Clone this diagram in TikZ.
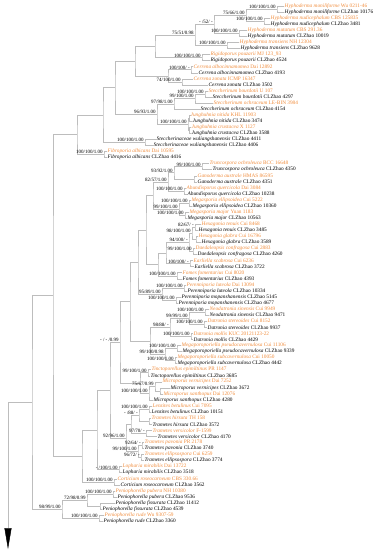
\documentclass[tikz,border=0pt]{standalone}
\usepackage{fontspec}
\setmainfont{Liberation Serif}
\usepackage{tikz}
\usetikzlibrary{arrows.meta}
\definecolor{colorRef}{HTML}{F08C3C}
\definecolor{colorRama}{HTML}{BDBDBD}
\newcommand{\taxon}[2]{\textit{#1} #2}

\begin{document}
\begin{tikzpicture}[
        x=1pt, y=-6.06pt,
        tip/.style={anchor=west, inner sep=0.5pt, font=\fontsize{5.3}{6}\selectfont},
        ref/.style={tip, text=colorRef},
        own/.style={tip},
        bs/.style={anchor=south east, inner sep=0.3pt, xshift=-0.8pt, font=\fontsize{5}{5}\selectfont},
        br/.style={draw=colorRama, line width=0.45pt}
    ]
    \useasboundingbox (0pt,0pt) rectangle (378pt,-550pt);
    % tips
    \node[ref] (t1) at (284,1) {\taxon{Hyphoderma moniliforme}{Wu 0211-46}};
    \node[own] (t2) at (284,2) {\taxon{Hyphoderma moniliforme}{CLZhao 10176}};
    \node[ref] (t3) at (270,3) {\taxon{Hyphoderma nudicephalum}{CBS 125835}};
    \node[own] (t4) at (270,4) {\taxon{Hyphoderma nudicephalum}{CLZhao 3481}};
    \node[ref] (t5) at (247,5) {\taxon{Hyphoderma mutatum}{CBS 291.36}};
    \node[own] (t6) at (247,6) {\taxon{Hyphoderma mutatum}{CLZhao 10019}};
    \node[ref] (t7) at (239,7) {\taxon{Hyphoderma transiens}{NH 12304}};
    \node[own] (t8) at (240,8) {\taxon{Hyphoderma transiens}{CLZhao 9628}};
    \node[ref] (t9) at (210,9) {\taxon{Rigidoporus pouzarii}{MJ 123\_93}};
    \node[own] (t10) at (210,10) {\taxon{Rigidoporus pouzarii}{CLZhao 4524}};
    \node[ref] (t11) at (193,11) {\taxon{Cerrena albocinnamomea}{Dai 12892}};
    \node[own] (t12) at (198,12) {\taxon{Cerrena albocinnamomea}{CLZhao 4193}};
    \node[ref] (t13) at (193,13) {\taxon{Cerrena zonata}{ICMP 16347}};
    \node[own] (t14) at (208,14) {\taxon{Cerrena zonata}{CLZhao 3502}};
    \node[ref] (t15) at (208,15) {\taxon{Steccherinum bourdotii}{U 107}};
    \node[own] (t16) at (212,16) {\taxon{Steccherinum bourdotii}{CLZhao 4297}};
    \node[ref] (t17) at (213,17) {\taxon{Steccherinum ochraceum}{LE-BIN 3984}};
    \node[own] (t18) at (200,18) {\taxon{Steccherinum ochraceum}{CLZhao 4154}};
    \node[ref] (t19) at (190,19) {\taxon{Junghuhnia nitida}{KHL 11903}};
    \node[own] (t20) at (192,20) {\taxon{Junghuhnia nitida}{CLZhao 3474}};
    \node[ref] (t21) at (191,21) {\taxon{Junghuhnia crustacea}{X 1127}};
    \node[own] (t22) at (191,22) {\taxon{Junghuhnia crustacea}{CLZhao 3588}};
    \node[own] (t23) at (156,23) {\taxon{Steccherinaceae wuliangshanensis}{CLZhao 4411}};
    \node[own] (t24) at (153,24) {\taxon{Steccherinaceae wuliangshanensis}{CLZhao 4406}};
    \node[ref] (t25) at (107,25) {\taxon{Fibroporia albicans}{Dai 10595}};
    \node[own] (t26) at (107,26) {\taxon{Fibroporia albicans}{CLZhao 4416}};
    \node[ref] (t27) at (209,27) {\taxon{Truncospora ochroleuca}{BCC 16648}};
    \node[own] (t28) at (212,28) {\taxon{Truncospora ochroleuca}{CLZhao 4350}};
    \node[ref] (t29) at (197,29) {\taxon{Ganoderma australe}{HMAS 86595}};
    \node[own] (t30) at (197,30) {\taxon{Ganoderma australe}{CLZhao 4351}};
    \node[ref] (t31) at (186,31) {\taxon{Abundisporus quercicola}{Dai 3084}};
    \node[own] (t32) at (187,32) {\taxon{Abundisporus quercicola}{CLZhao 10238}};
    \node[ref] (t33) at (191,33) {\taxon{Megasporia ellipsoidea}{Cui 5222}};
    \node[own] (t34) at (192,34) {\taxon{Megasporia ellipsoidea}{CLZhao 10360}};
    \node[ref] (t35) at (189,35) {\taxon{Megasporia major}{Yuan 1183}};
    \node[own] (t36) at (187,36) {\taxon{Megasporia major}{CLZhao 10563}};
    \node[ref] (t37) at (201,37) {\taxon{Hexagonia tenuis}{Cui 8468}};
    \node[own] (t38) at (198,38) {\taxon{Hexagonia tenuis}{CLZhao 3485}};
    \node[ref] (t39) at (198,39) {\taxon{Hexagonia glabra}{Cui 16796}};
    \node[own] (t40) at (201,40) {\taxon{Hexagonia glabra}{CLZhao 3589}};
    \node[ref] (t41) at (195,41) {\taxon{Daedaleopsis confragosa}{Cui 2883}};
    \node[own] (t42) at (197,42) {\taxon{Daedaleopsis confragosa}{CLZhao 4260}};
    \node[ref] (t43) at (193,43) {\taxon{Earliella scabrosa}{Cui 6236}};
    \node[own] (t44) at (194,44) {\taxon{Earliella scabrosa}{CLZhao 3722}};
    \node[ref] (t45) at (182,45) {\taxon{Fomes fomentarius}{Cui 8020}};
    \node[own] (t46) at (182,46) {\taxon{Fomes fomentarius}{CLZhao 4393}};
    \node[ref] (t47) at (186,47) {\taxon{Perenniporia luteola}{Dai 13094}};
    \node[own] (t48) at (187,48) {\taxon{Perenniporia luteola}{CLZhao 10334}};
    \node[own] (t49) at (181,49) {\taxon{Perenniporia mopanshanensis}{CLZhao 5145}};
    \node[own] (t50) at (178,50) {\taxon{Perenniporia mopanshanensis}{CLZhao 4677}};
    \node[ref] (t51) at (209,51) {\taxon{Neodatronia sinensis}{Cui 9949}};
    \node[own] (t52) at (209,52) {\taxon{Neodatronia sinensis}{CLZhao 9471}};
    \node[ref] (t53) at (207,53) {\taxon{Datronia stereoides}{Cui 8152}};
    \node[own] (t54) at (207,54) {\taxon{Datronia stereoides}{CLZhao 9937}};
    \node[ref] (t55) at (193,55) {\taxon{Datronia mollis}{KUC 20121123-22}};
    \node[own] (t56) at (193,56) {\taxon{Datronia mollis}{CLZhao 4429}};
    \node[ref] (t57) at (181,57) {\taxon{Megaporoporiella pseudocavernulosa}{Cui 11106}};
    \node[own] (t58) at (182,58) {\taxon{Megaporoporiella pseudocavernulosa}{CLZhao 9339}};
    \node[ref] (t59) at (177,59) {\taxon{Megaporoporiella subcavernulosa}{Cui 10050}};
    \node[own] (t60) at (177,60) {\taxon{Megaporoporiella subcavernulosa}{CLZhao 4442}};
    \node[ref] (t61) at (151,61) {\taxon{Tinctoporellus epimiltinus}{PR 1147}};
    \node[own] (t62) at (150,62) {\taxon{Tinctoporellus epimiltinus}{CLZhao 3685}};
    \node[ref] (t63) at (162,63) {\taxon{Microporus vernicipes}{Dai 7252}};
    \node[own] (t64) at (170,64) {\taxon{Microporus vernicipes}{CLZhao 3672}};
    \node[ref] (t65) at (163,65) {\taxon{Microporus xanthopus}{Dai 12076}};
    \node[own] (t66) at (153,66) {\taxon{Microporus xanthopus}{CLZhao 4280}};
    \node[ref] (t67) at (152,67) {\taxon{Lenzites betulinus}{Cui 7095}};
    \node[own] (t68) at (151,68) {\taxon{Lenzites betulinus}{CLZhao 10151}};
    \node[ref] (t69) at (151,69) {\taxon{Trametes hirsuta}{TH 158}};
    \node[own] (t70) at (152,70) {\taxon{Trametes hirsuta}{CLZhao 3572}};
    \node[ref] (t71) at (152,71) {\taxon{Trametes versicolor}{F-1599}};
    \node[own] (t72) at (157,72) {\taxon{Trametes versicolor}{CLZhao 4170}};
    \node[ref] (t73) at (144,73) {\taxon{Trametes pavonia}{PR 2178}};
    \node[own] (t74) at (144,74) {\taxon{Trametes pavonia}{CLZhao 3740}};
    \node[ref] (t75) at (144,75) {\taxon{Trametes ellipsospora}{Cui 6259}};
    \node[own] (t76) at (144,76) {\taxon{Trametes ellipsospora}{CLZhao 3774}};
    \node[ref] (t77) at (122,77) {\taxon{Lopharia mirabilis}{Dai 13722}};
    \node[own] (t78) at (122,78) {\taxon{Lopharia mirabilis}{CLZhao 3518}};
    \node[ref] (t79) at (117,79) {\taxon{Corticium roseocarneum}{CBS 330.66}};
    \node[own] (t80) at (120,80) {\taxon{Corticium roseocarneum}{CLZhao 3562}};
    \node[ref] (t81) at (115,81) {\taxon{Peniophorella pubera}{NH 10380}};
    \node[own] (t82) at (117,82) {\taxon{Peniophorella pubera}{CLZhao 9536}};
    \node[own] (t83) at (115,83) {\taxon{Peniophorella fissurata}{CLZhao 11412}};
    \node[own] (t84) at (102,84) {\taxon{Peniophorella fissurata}{CLZhao 4539}};
    \node[ref] (t85) at (104,85) {\taxon{Peniophorella rude}{Wu 9307-59}};
    \node[own] (t86) at (103,86) {\taxon{Peniophorella rude}{CLZhao 3360}};
    % inner nodes, upper part
    \coordinate (h12) at (277,1.5); \coordinate (h34) at (264,3.5); \coordinate (h1234) at (246,2.5);
    \coordinate (h56) at (239,5.5); \coordinate (hA) at (214,4); \coordinate (h78) at (227,7.5);
    \coordinate (hB) at (195,5.75); \coordinate (rig) at (202,9.5); \coordinate (hR) at (155,7.625);
    \coordinate (ca) at (191,11.5); \coordinate (cz) at (182,13.5); \coordinate (cer) at (168,12.5);
    \coordinate (hRC) at (135,10.06); \coordinate (sb) at (205,15.5); \coordinate (s3) at (195,16.25);
    \coordinate (s4) at (174,17.125); \coordinate (j12) at (189.5,19.5); \coordinate (j34) at (189.5,21.5);
    \coordinate (jun) at (188,20.5); \coordinate (sj) at (157,18.81); \coordinate (X) at (115,14.44);
    \coordinate (wu) at (145,23.5); \coordinate (n103) at (103,18.97); \coordinate (fib) at (104,25.5);
    \coordinate (n77) at (77,22.23);
    % inner nodes, middle part
    \coordinate (tr) at (202,27.5); \coordinate (ga) at (194,29.5); \coordinate (tg) at (174,28.5);
    \coordinate (ab) at (184,31.5); \coordinate (tga) at (168,30); \coordinate (me) at (189,33.5);
    \coordinate (mm) at (185,35.5); \coordinate (meg) at (179,34.5); \coordinate (c1) at (153,32.25);
    \coordinate (ht) at (195,37.5); \coordinate (hg) at (196,39.5); \coordinate (hex) at (192,38.5);
    \coordinate (da) at (193,41.5); \coordinate (hd) at (189,40); \coordinate (ea) at (190,43.5);
    \coordinate (hde) at (166,41.75); \coordinate (fo) at (177,45.5); \coordinate (hdef) at (158,43.625);
    \coordinate (c2) at (146,37.94); \coordinate (pl) at (184,47.5); \coordinate (pm) at (176,49.5);
    \coordinate (per) at (162,48.5); \coordinate (c3) at (138,43.22); \coordinate (ne) at (205,51.5);
    \coordinate (ds) at (204,53.5); \coordinate (dst) at (189,52.5); \coordinate (dm) at (191,55.5);
    \coordinate (dat) at (170,54); \coordinate (ps) at (177,57.5); \coordinate (sc) at (175,59.5);
    \coordinate (mp) at (165,58.5); \coordinate (dmp) at (150,56.25); \coordinate (c4) at (130,49.73);
    \coordinate (ti) at (148,61.5); \coordinate (m45) at (160,64.5); \coordinate (mvx) at (155,63.75);
    \coordinate (mic) at (149,64.875); \coordinate (tm) at (140,63.19); \coordinate (n118) at (120,56.46);
    % inner nodes, lower part
    \coordinate (le) at (149,67.5); \coordinate (hi) at (149,69.5); \coordinate (lh) at (139,68.5);
    \coordinate (ve) at (146,71.5); \coordinate (lhv) at (131,70); \coordinate (pa) at (142,73.5);
    \coordinate (el) at (141,75.5); \coordinate (pe) at (138,74.5); \coordinate (tra) at (126,72.25);
    \coordinate (n110) at (110,64.36); \coordinate (lo) at (119,77.5); \coordinate (n97) at (97,70.93);
    \coordinate (co) at (114,79.5); \coordinate (n82) at (82,75.21); \coordinate (n53) at (53,48.72);
    \coordinate (pu) at (113,81.5); \coordinate (fi) at (100,83.5); \coordinate (pf) at (87,82.5);
    \coordinate (ru) at (99,85.5); \coordinate (pen) at (62,84); \coordinate (n32) at (32,66.36);
    \coordinate (root) at (8,66.36); \coordinate (rootEnd) at (8,90.6);
    % branches
    \draw[br] (t1) -| (h12) |- (t2); \draw[br] (t3) -| (h34) |- (t4); \draw[br] (h12) -| (h1234) |- (h34);
    \draw[br] (t5) -| (h56) |- (t6); \draw[br] (h1234) -| (hA) |- (h56); \draw[br] (t7) -| (h78) |- (t8);
    \draw[br] (hA) -| (hB) |- (h78); \draw[br] (t9) -| (rig) |- (t10); \draw[br] (hB) -| (hR) |- (rig);
    \draw[br] (t11) -| (ca) |- (t12); \draw[br] (t13) -| (cz) |- (t14); \draw[br] (ca) -| (cer) |- (cz);
    \draw[br] (hR) -| (hRC) |- (cer); \draw[br] (t15) -| (sb) |- (t16); \draw[br] (sb) -| (s3) |- (t17);
    \draw[br] (s3) -| (s4) |- (t18); \draw[br] (t19) -| (j12) |- (t20); \draw[br] (t21) -| (j34) |- (t22);
    \draw[br] (j12) -| (jun) |- (j34); \draw[br] (s4) -| (sj) |- (jun); \draw[br] (hRC) -| (X) |- (sj);
    \draw[br] (t23) -| (wu) |- (t24); \draw[br] (X) -| (n103) |- (wu); \draw[br] (t25) -| (fib) |- (t26);
    \draw[br] (n103) -| (n77) |- (fib);
    \draw[br] (t27) -| (tr) |- (t28); \draw[br] (t29) -| (ga) |- (t30); \draw[br] (tr) -| (tg) |- (ga);
    \draw[br] (t31) -| (ab) |- (t32); \draw[br] (tg) -| (tga) |- (ab); \draw[br] (t33) -| (me) |- (t34);
    \draw[br] (t35) -| (mm) |- (t36); \draw[br] (me) -| (meg) |- (mm); \draw[br] (tga) -| (c1) |- (meg);
    \draw[br] (t37) -| (ht) |- (t38); \draw[br] (t39) -| (hg) |- (t40); \draw[br] (ht) -| (hex) |- (hg);
    \draw[br] (t41) -| (da) |- (t42); \draw[br] (hex) -| (hd) |- (da); \draw[br] (t43) -| (ea) |- (t44);
    \draw[br] (hd) -| (hde) |- (ea); \draw[br] (t45) -| (fo) |- (t46); \draw[br] (hde) -| (hdef) |- (fo);
    \draw[br] (c1) -| (c2) |- (hdef); \draw[br] (t47) -| (pl) |- (t48); \draw[br] (t49) -| (pm) |- (t50);
    \draw[br] (pl) -| (per) |- (pm); \draw[br] (c2) -| (c3) |- (per); \draw[br] (t51) -| (ne) |- (t52);
    \draw[br] (t53) -| (ds) |- (t54); \draw[br] (ne) -| (dst) |- (ds); \draw[br] (t55) -| (dm) |- (t56);
    \draw[br] (dst) -| (dat) |- (dm); \draw[br] (t57) -| (ps) |- (t58); \draw[br] (t59) -| (sc) |- (t60);
    \draw[br] (ps) -| (mp) |- (sc); \draw[br] (dat) -| (dmp) |- (mp); \draw[br] (c3) -| (c4) |- (dmp);
    \draw[br] (t61) -| (ti) |- (t62); \draw[br] (t64) -| (m45) |- (t65); \draw[br] (t63) -| (mvx) |- (m45);
    \draw[br] (mvx) -| (mic) |- (t66); \draw[br] (ti) -| (tm) |- (mic); \draw[br] (c4) -| (n118) |- (tm);
    \draw[br] (t67) -| (le) |- (t68); \draw[br] (t69) -| (hi) |- (t70); \draw[br] (le) -| (lh) |- (hi);
    \draw[br] (t71) -| (ve) |- (t72); \draw[br] (lh) -| (lhv) |- (ve); \draw[br] (t73) -| (pa) |- (t74);
    \draw[br] (t75) -| (el) |- (t76); \draw[br] (pa) -| (pe) |- (el); \draw[br] (lhv) -| (tra) |- (pe);
    \draw[br] (n118) -| (n110) |- (tra); \draw[br] (t77) -| (lo) |- (t78); \draw[br] (n110) -| (n97) |- (lo);
    \draw[br] (t79) -| (co) |- (t80); \draw[br] (n97) -| (n82) |- (co); \draw[br] (n77) -| (n53) |- (n82);
    \draw[br] (t81) -| (pu) |- (t82); \draw[br] (t83) -| (fi) |- (t84); \draw[br] (pu) -| (pf) |- (fi);
    \draw[br] (t85) -| (ru) |- (t86); \draw[br] (pf) -| (pen) |- (ru); \draw[br] (n53) -| (n32) |- (pen);
    \draw[br] (root) -- (n32);
    \draw[br, -{Triangle[length=21pt, width=7pt, black]}] (root) -- (rootEnd);
    % support values
    \node[bs] (lh12) at (h12) {100/100/1.00}; \node[bs] (lh34) at (h34) {100/100/1.00};
    \node[bs] (lh1234) at (h1234) {75/66/1.00}; \node[bs] (lh56) at (h56) {100/100/1.00};
    \node[bs] (lhA) at (hA) {- /52/ -}; \node[bs] (lh78) at (h78) {100/100/1.00};
    \node[bs] (lhB) at (hB) {75/51/0.98}; \node[bs] (lrig) at (rig) {100/100/1.00};
    \node[bs] (lca) at (ca) {100/100/ -}; \node[bs] (lcz) at (cz) {74/100/1.00};
    \node[bs] (lsb) at (sb) {100/100/1.00}; \node[bs] (ls3) at (s3) {99/100/1.00};
    \node[bs] (ls4) at (s4) {97/98/1.00}; \node[bs] (ljun) at (jun) {100/100/1.00};
    \node[bs] (lsj) at (sj) {96/93/1.00}; \node[bs] (lwu) at (wu) {100/100/1.00};
    \node[bs] (lfib) at (fib) {100/100/1.00};
    \node[bs] (ltr) at (tr) {99/100/1.00}; \node[bs] (ltg) at (tg) {93/92/1.00};
    \node[bs] (lab) at (ab) {100/100/1.00}; \node[bs] (ltga) at (tga) {82/57/1.00};
    \node[bs] (lme) at (me) {100/100/1.00}; \node[bs] (lmm) at (mm) {100/100/1.00};
    \node[bs] (lmeg) at (meg) {99/100/1.00}; \node[bs] (lht) at (ht) {82/67/ -};
    \node[bs] (lhex) at (hex) {98/100/1.00}; \node[bs] (lhd) at (hd) {94/100/ -};
    \node[bs] (lda) at (da) {99/100/1.00}; \node[bs] (lea) at (ea) {100/100/ -};
    \node[bs] (lfo) at (fo) {100/100/1.00}; \node[bs] (lpl) at (pl) {100/100/1.00};
    \node[bs] (lpm) at (pm) {100/100/1.00}; \node[bs] (lper) at (per) {95/89/1.00};
    \node[bs] (lne) at (ne) {100/100/1.00}; \node[bs] (lds) at (ds) {100/100/1.00};
    \node[bs] (ldst) at (dst) {99/99/1.00}; \node[bs] (ldat) at (dat) {98/88/ -};
    \node[bs] (ldm) at (dm) {100/100/1.00}; \node[bs] (lps) at (ps) {100/100/1.00};
    \node[bs] (lsc) at (sc) {100/100/1.00}; \node[bs] (lmp) at (mp) {99/100/0.98};
    \node[bs] (lti) at (ti) {99/100/1.00}; \node[bs] (lmvx) at (mvx) {75/67/0.99};
    \node[bs] (lmic) at (mic) {100/100/1.00}; \node[bs] (ln118) at (n118) {- / - /0.99};
    \node[bs] (lle) at (le) {100/100/1.00}; \node[bs] (llh) at (lh) {- /88/ -};
    \node[bs] (lve) at (ve) {97/70/ -}; \node[bs] (ltra) at (tra) {92/96/1.00};
    \node[bs] (lpa) at (pa) {92/64/ -}; \node[bs] (lpe) at (pe) {99/100/1.00};
    \node[bs] (lel) at (el) {96/72/ -}; \node[bs] (llo) at (lo) {- /100/1.00};
    \node[bs] (lco) at (co) {100/100/1.00}; \node[bs] (lpu) at (pu) {100/100/1.00};
    \node[bs] (lpf) at (pf) {72/98/0.99}; \node[bs] (lru) at (ru) {100/100/1.00};
    \node[bs] (lpen) at (pen) {98/99/1.00};
\end{tikzpicture}
\end{document}
